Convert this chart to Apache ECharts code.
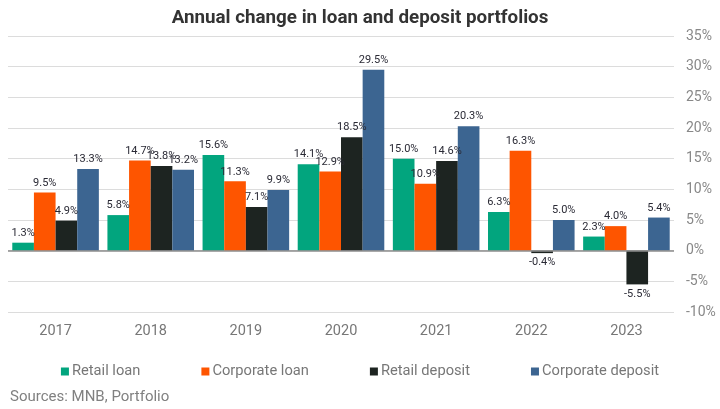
<!DOCTYPE html>
<html>
<head>
<meta charset="utf-8">
<script src="https://cdn.jsdelivr.net/npm/echarts@6/dist/echarts.min.js"></script>
<style>
  html, body { margin: 0; padding: 0; background: #fff; }
  #chart { width: 720px; height: 409px; }
</style>
</head>
<body>
<div id="chart"></div>
<script>
const years = ['2017', '2018', '2019', '2020', '2021', '2022', '2023']
const retailLoan = [1.3, 5.8, 15.6, 14.1, 15.0, 6.3, 2.3]
const corporateLoan = [9.5, 14.7, 11.3, 12.9, 10.9, 16.3, 4.0]
const retailDeposit = [4.9, 13.8, 7.1, 18.5, 14.6, -0.4, -5.5]
const corporateDeposit = [13.3, 13.2, 9.9, 29.5, 20.3, 5.0, 5.4]

const names = ['Retail loan', 'Corporate loan', 'Retail deposit', 'Corporate deposit']
const colors = ['#02a57e', '#fe5500', '#1d2421', '#3c6591']
const values = [retailLoan, corporateLoan, retailDeposit, corporateDeposit]

const font = 'Roboto, "Noto Sans", sans-serif'

// negative bars get their label underneath
const toData = arr => arr.map(v => ({
  value: v,
  label: { position: v < 0 ? 'bottom' : 'top' }
}))

const series = values.map((arr, i) => ({
  name: names[i],
  type: 'bar',
  data: toData(arr),
  barGap: '0%',
  barCategoryGap: '9%',
  itemStyle: { color: colors[i] },
  label: {
    show: true,
    distance: 4,
    fontFamily: font,
    fontSize: 11,
    color: '#2a2a35',
    formatter: p => p.value.toFixed(1) + '%'
  }
}))

series[0].markLine = {
  silent: true,
  symbol: 'none',
  label: { show: false },
  lineStyle: { color: '#8c8c8c', width: 1.5, type: 'solid' },
  data: [{ yAxis: 0 }]
}

const chart = echarts.init(document.getElementById('chart'))
chart.setOption({
  animation: false,
  title: {
    text: 'Annual change in loan and deposit portfolios',
    left: 'center',
    top: 4,
    textStyle: { fontFamily: font, fontSize: 18.8, fontWeight: 'bold', color: '#333' }
  },
  grid: { left: 8, right: 46, top: 36, bottom: 97 },
  legend: {
    data: names,
    top: 359,
    left: 'center',
    itemWidth: 8,
    itemHeight: 8,
    itemGap: 61,
    icon: 'rect',
    textStyle: { fontFamily: font, fontSize: 14.7, color: '#777', padding: [0, 0, 0, -2] }
  },
  graphic: [{
    type: 'text',
    left: 10,
    top: 390,
    style: { text: 'Sources: MNB, Portfolio', fontFamily: font, fontSize: 15, fill: '#808080' }
  }],
  xAxis: {
    type: 'category',
    data: years,
    axisLine: { show: false },
    axisTick: { show: false },
    axisLabel: { fontFamily: font, fontSize: 14.5, color: '#777', margin: 12 }
  },
  yAxis: {
    type: 'value',
    position: 'right',
    min: -10,
    max: 35,
    interval: 5,
    axisLine: { show: false },
    axisTick: { show: false },
    splitLine: { lineStyle: { color: '#dcdcdc', width: 1 } },
    axisLabel: {
      fontFamily: font,
      fontSize: 14,
      color: '#888',
      margin: 12,
      formatter: v => v + '%'
    }
  },
  series: series
})
</script>
</body>
</html>
